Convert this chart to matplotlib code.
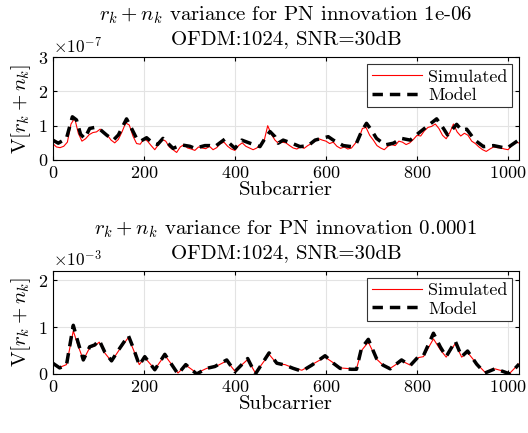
import numpy as np
import matplotlib
matplotlib.use('Agg')
from matplotlib import pyplot as plt

plt.rcParams['font.family'] = 'serif'
plt.rcParams['font.serif'] = ['cmr10']
plt.rcParams['mathtext.fontset'] = 'cm'
plt.rcParams['axes.formatter.use_mathtext'] = True
plt.rcParams['axes.unicode_minus'] = True

# ---- top panel: innovation 1e-06 (values x1e-7) ----
top_model_k = [0, 12, 30, 43, 52, 61, 70, 81, 92, 103, 118, 133, 144, 162, 173, 184, 193, 206, 220,
               230, 242, 264, 283, 301, 312, 334, 345, 356, 378, 400, 415, 433, 455, 466, 477, 488,
               495, 506, 525, 543, 561, 576, 605, 616, 638, 656, 667, 678, 689, 700, 711, 730, 748,
               766, 785, 803, 821, 843, 858, 867, 887, 898, 909, 927, 946, 968, 997, 1023]
top_model_v = [0.58, 0.49, 0.63, 1.26, 1.17, 0.75, 0.63, 0.92, 0.95, 0.90, 0.73, 0.58, 0.73, 1.20, 0.92,
               0.63, 0.55, 0.65, 0.49, 0.45, 0.63, 0.34, 0.44, 0.40, 0.34, 0.42, 0.42, 0.39, 0.61, 0.34,
               0.58, 0.49, 0.39, 0.63, 0.83, 0.68, 0.49, 0.58, 0.49, 0.39, 0.42, 0.58, 0.68, 0.58, 0.42,
               0.39, 0.49, 0.83, 1.07, 0.87, 0.63, 0.44, 0.49, 0.63, 0.58, 0.78, 0.97, 1.20, 0.92, 0.73,
               1.04, 0.87, 0.90, 0.58, 0.39, 0.42, 0.34, 0.58]

top_sim_k = np.append(np.arange(0, 1024, 8), 1023)
top_sim_v = [0.48, 0.38, 0.36, 0.40, 0.52, 1.05, 1.22, 0.78, 0.55, 0.62, 0.74, 0.80, 0.82, 0.90, 0.78, 0.72,
             0.58, 0.50, 0.60, 0.82, 1.08, 1.02, 0.70, 0.48, 0.46, 0.62, 0.55, 0.42, 0.30, 0.45, 0.60, 0.55,
             0.38, 0.30, 0.22, 0.38, 0.45, 0.35, 0.32, 0.28, 0.38, 0.35, 0.33, 0.40, 0.30, 0.36, 0.48, 0.52,
             0.40, 0.32, 0.28, 0.42, 0.50, 0.40, 0.35, 0.30, 0.35, 0.45, 0.55, 1.00, 0.75, 0.58, 0.48, 0.52,
             0.50, 0.42, 0.35, 0.32, 0.38, 0.34, 0.42, 0.48, 0.55, 0.62, 0.58, 0.55, 0.48, 0.52, 0.40, 0.34,
             0.38, 0.32, 0.35, 0.48, 0.62, 0.92, 0.95, 0.72, 0.58, 0.42, 0.35, 0.30, 0.40, 0.45, 0.42, 0.55,
             0.52, 0.45, 0.50, 0.60, 0.72, 0.70, 0.85, 0.95, 0.98, 1.05, 0.92, 0.72, 0.62, 0.80, 1.05, 0.82,
             0.70, 0.78, 0.72, 0.55, 0.48, 0.38, 0.30, 0.25, 0.32, 0.38, 0.36, 0.35, 0.32, 0.30, 0.42, 0.52,
             0.50]

# ---- bottom panel: innovation 0.0001 (values x1e-3) ----
bot_model_k = [0, 15, 30, 45, 55, 67, 81, 92, 102, 114, 129, 147, 166, 177, 190, 202, 224, 246, 275, 292,
               316, 338, 356, 382, 400, 428, 445, 475, 492, 510, 528, 547, 569, 598, 616, 631, 656, 667,
               678, 693, 711, 725, 741, 766, 785, 803, 814, 836, 851, 864, 884, 898, 911, 931, 949, 971,
               990, 1004, 1024]
bot_model_v = [0.23, 0.13, 0.19, 1.04, 0.69, 0.30, 0.58, 0.62, 0.72, 0.47, 0.28, 0.55, 0.82, 0.55, 0.19,
               0.37, 0.09, 0.42, 0.00, 0.20, 0.00, 0.12, 0.16, 0.30, 0.05, 0.33, 0.00, 0.45, 0.23, 0.19,
               0.12, 0.06, 0.19, 0.39, 0.23, 0.12, 0.10, 0.10, 0.55, 0.74, 0.33, 0.19, 0.11, 0.30, 0.18,
               0.37, 0.39, 0.87, 0.58, 0.37, 0.70, 0.37, 0.49, 0.21, 0.02, 0.11, 0.05, 0.00, 0.21]
bot_sim_v = [0.22, 0.14, 0.20, 0.92, 0.62, 0.30, 0.56, 0.60, 0.68, 0.45, 0.27, 0.53, 0.78, 0.52, 0.20,
             0.35, 0.10, 0.40, 0.02, 0.19, 0.02, 0.12, 0.15, 0.28, 0.06, 0.31, 0.02, 0.42, 0.22, 0.20,
             0.13, 0.08, 0.20, 0.36, 0.24, 0.13, 0.11, 0.11, 0.50, 0.68, 0.32, 0.19, 0.12, 0.28, 0.19,
             0.35, 0.37, 0.75, 0.52, 0.36, 0.65, 0.36, 0.46, 0.22, 0.04, 0.11, 0.06, 0.02, 0.22]

panels = [
    dict(sim_k=top_sim_k, sim_v=top_sim_v, mod_k=top_model_k, mod_v=top_model_v, scale=1e-7,
         ylim=3e-7, yticks=[0, 1e-7, 2e-7, 3e-7], inno='1e-06', pos=[0.100, 0.6305, 0.883, 0.2375]),
    dict(sim_k=bot_model_k, sim_v=bot_sim_v, mod_k=bot_model_k, mod_v=bot_model_v, scale=1e-3,
         ylim=2.2e-3, yticks=[0, 1e-3, 2e-3], inno='0.0001', pos=[0.100, 0.1363, 0.883, 0.2379]),
]

fig = plt.figure(figsize=(5.28, 4.33), dpi=100)
for p in panels:
    ax = fig.add_axes(p['pos'])
    ax.plot(p['sim_k'], np.array(p['sim_v']) * p['scale'], color='red', lw=0.8, label='Simulated')
    ax.plot(p['mod_k'], np.array(p['mod_v']) * p['scale'], color='black', lw=2.5,
            ls=(0, (3, 2)), label='Model')
    ax.set_xlim(0, 1024)
    ax.set_ylim(0, p['ylim'])
    ax.set_yticks(p['yticks'])
    ax.set_xticks([0, 200, 400, 600, 800, 1000])
    ax.ticklabel_format(style='sci', axis='y', scilimits=(0, 0))
    ax.grid(True, color='#e3e3e3', lw=0.8)
    ax.set_axisbelow(True)
    ax.tick_params(direction='in', top=True, right=True, labelsize=13, length=3)
    ax.yaxis.get_offset_text().set_fontsize(12.5)
    ax.set_xlabel('Subcarrier', fontsize=15, labelpad=0)
    ax.set_ylabel(r'V$[r_k+n_k]$', fontsize=15, labelpad=3)
    ax.set_title(r'$r_k + n_k$ variance for PN innovation ' + p['inno'] + '\nOFDM:1024, SNR=30dB',
                 fontsize=15, linespacing=1.3, y=1.0, pad=9.5)
    leg = ax.legend(loc='upper right', fontsize=13, fancybox=False, framealpha=1,
                    edgecolor='#333333', handlelength=2.8, borderpad=0.25, labelspacing=0.15,
                    handletextpad=0.3, borderaxespad=0.4)
    leg.get_frame().set_linewidth(0.8)
    for s in ax.spines.values():
        s.set_linewidth(0.8)

fig.savefig('out.png', dpi=100)
